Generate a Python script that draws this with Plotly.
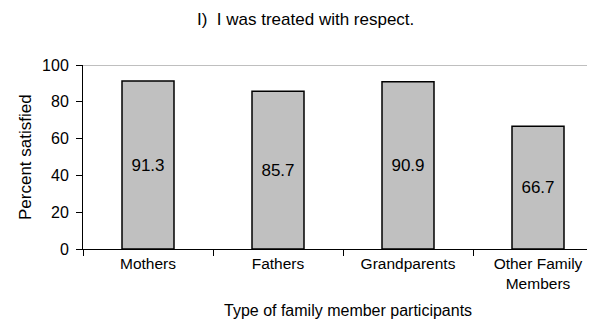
import plotly.graph_objects as go

categories = ["Mothers", "Fathers", "Grandparents", "Other Family<br>Members"]
values = [91.3, 85.7, 90.9, 66.7]
value_labels = ["91.3", "85.7", "90.9", "66.7"]
y_ticks = [0, 20, 40, 60, 80, 100]

title_text = "I)  I was treated with respect."
x_title = "Type of family member participants"
y_title = "Percent satisfied"

FONT = "Liberation Sans, Arial, sans-serif"

# page body has a default 8px margin; compensate so the plot lands where the reference has it
OFF = 8
PLOT_L, PLOT_T, PLOT_B = 83, 65, 249
PLOT_W = 595 - PLOT_L
PLOT_H = PLOT_B - PLOT_T

fig = go.Figure()
fig.add_trace(go.Bar(
    x=categories,
    y=values,
    text=value_labels,
    textposition="inside",
    insidetextanchor="middle",
    textangle=0,
    constraintext="none",
    textfont=dict(family=FONT, size=17, color="black"),
    marker=dict(color="#c0c0c0", line=dict(color="black", width=1.5)),
    width=0.4,
    hoverinfo="skip",
))

fig.update_layout(
    width=595 - OFF, height=319 - OFF,
    margin=dict(l=PLOT_L - OFF, r=0, t=PLOT_T - OFF, b=319 - PLOT_B, pad=0),
    paper_bgcolor="white", plot_bgcolor="white",
    showlegend=False,
    font=dict(family=FONT, size=16, color="black"),
    xaxis=dict(
        type="category",
        range=[-0.5, 3.4385],
        showgrid=False, zeroline=False,
        showline=True, linecolor="black", linewidth=1,
        ticks="outside", tickson="boundaries", ticklen=6, tickcolor="black", tickwidth=1,
        tickfont=dict(family=FONT, size=15.5, color="black"),
        fixedrange=True,
    ),
    yaxis=dict(
        range=[0, 100],
        tickvals=y_ticks,
        showgrid=False, zeroline=False,
        showline=True, linecolor="black", linewidth=1,
        ticks="outside", ticklen=6, tickcolor="black", tickwidth=1,
        tickfont=dict(family=FONT, size=16, color="black"),
        ticklabelstandoff=4,
        fixedrange=True,
    ),
    shapes=[dict(type="line", xref="paper", x0=0, x1=1, yref="y", y0=100, y1=100,
                 line=dict(color="#808080", width=1.2), layer="below")],
    annotations=[
        dict(text=title_text, xref="paper", yref="paper",
             x=(305 - PLOT_L) / PLOT_W, y=1 + (PLOT_T - 19) / PLOT_H,
             xanchor="center", yanchor="middle",
             showarrow=False, font=dict(family=FONT, size=17, color="black")),
        dict(text=x_title, xref="paper", yref="paper",
             x=(348 - PLOT_L) / PLOT_W, y=-(310 - PLOT_B) / PLOT_H,
             xanchor="center", yanchor="middle",
             showarrow=False, font=dict(family=FONT, size=16, color="black")),
        dict(text=y_title, xref="paper", yref="paper", textangle=-90,
             x=-(PLOT_L - 25) / PLOT_W, y=0.5, xanchor="center", yanchor="middle",
             showarrow=False, font=dict(family=FONT, size=17, color="black")),
    ],
)

fig.write_html("out.html")
